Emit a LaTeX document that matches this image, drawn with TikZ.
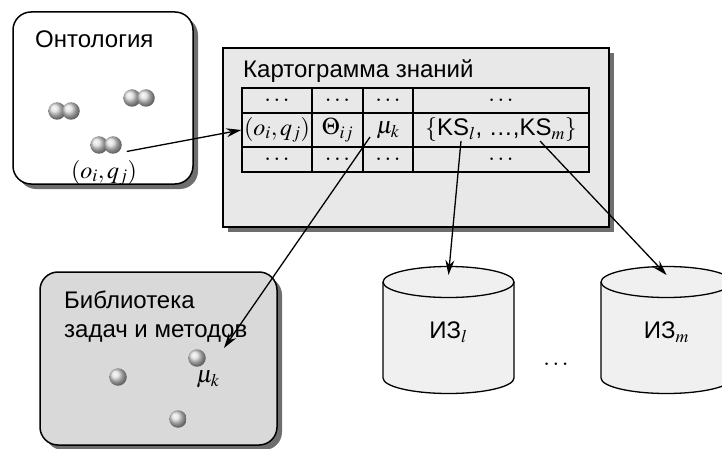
\documentclass[tikz,border=0pt]{standalone}
\usepackage{mathptmx}
\usepackage{fontspec}
\setmainfont{Liberation Sans}
\usetikzlibrary{arrows.meta}
\usetikzlibrary{shadows}
\definecolor{mapgray}{RGB}{232,232,232}
\definecolor{libgray}{RGB}{217,217,217}
\definecolor{basegray}{RGB}{240,240,240}
\definecolor{shadowgray}{RGB}{110,110,110}
\newcommand{\drawarrow}{\draw[-{Stealth[length=15pt,width=9pt,inset=5pt]}, line width=1.3pt]}
\newcommand{\drawbase}[3]{% knowledge source as a cylinder
    \filldraw[fill=basegray, line width=1.3pt] (#2-65.5, 282) -- (#2-65.5, 378)
        arc[start angle=180, end angle=0, x radius=65.5, y radius=15.5]
        -- (#2+65.5, 282)
        arc[start angle=0, end angle=-180, x radius=65.5, y radius=15.5] -- cycle;
    \draw[line width=1.3pt] (#2-65.5, 282) arc[start angle=180, end angle=0, x radius=65.5, y radius=15.5];
    \coordinate (#1) at (#2, 275);
    \node (#1 text) at (#2, 332) {#3};
}
\tikzset{
    box/.style={draw, line width=1.5pt, inner sep=0pt,
        drop shadow={shadow xshift=5pt, shadow yshift=-5pt, fill=shadowgray, opacity=1}},
    cell/.style={draw, line width=1.5pt, inner sep=0pt},
    ball/.style={circle, inner sep=0pt, minimum size=17.5pt, shading=ball, ball color=gray!28}
}

\begin{document}
\begin{tikzpicture}[x=1pt, y=-1pt, font=\fontsize{24}{29}\selectfont]
    \useasboundingbox (0,0) rectangle (722,449);
    \clip (0,0) rectangle (722,449);

    % Draw boxes
    \node[box, rounded corners=18pt, fill=white, minimum width=180pt, minimum height=172pt] (onto) at (103, 98) {};
    \node[box, fill=mapgray, minimum width=386pt, minimum height=179pt] (map) at (416, 137.5) {};
    \node[box, rounded corners=18pt, fill=libgray, minimum width=237pt, minimum height=173pt] (lib) at (158.5, 358.5) {};

    \node[anchor=base west, inner sep=0pt] (onto title) at (35, 48) {Онтология};
    \node[anchor=base west, inner sep=0pt] (map title) at (243, 78) {Картограмма знаний};
    \node[anchor=base west, align=left, inner sep=0pt] (lib title) at (64, 337) {Библиотека\\задач и методов};

    % Draw table
    \foreach \cx/\cw/\n in {277/70/a, 337.5/51/b, 388/50/c, 501/176/d} {
        \node[cell, minimum width=\cw pt, minimum height=25pt] (top \n) at (\cx, 100.5) {$\dots$};
        \node[cell, minimum width=\cw pt, minimum height=25pt] (bot \n) at (\cx, 159.5) {$\dots$};
    }
    \node[cell, minimum width=70pt, minimum height=34pt] (oq) at (277, 130) {$(o_i,q_j)$};
    \node[cell, minimum width=51pt, minimum height=34pt] (theta) at (337.5, 130) {$\Theta_{ij}$};
    \node[cell, minimum width=50pt, minimum height=34pt] (mu) at (388, 130) {$\mu_k$};
    \node[cell, minimum width=176pt, minimum height=34pt] (ks) at (501, 130) {$\{$KS$_l$, \dots,KS$_m\}$};
    \coordinate (ksl) at (461, 141);
    \coordinate (ksm) at (540, 141);
    \coordinate (mu tail) at (370, 137);

    % Draw balls
    \node[ball] (p1a) at (57, 111) {};
    \node[ball] (p1b) at (71, 111) {};
    \node[ball] (p2a) at (132, 98) {};
    \node[ball] (p2b) at (146, 98) {};
    \node[ball] (p3a) at (99, 145) {};
    \node[ball] (p3b) at (113, 145) {};
    \node[inner sep=0pt] (oq label) at (104, 173) {$(o_i,q_j)$};

    \node[ball] (m1) at (197, 358) {};
    \node[ball] (m2) at (118, 377) {};
    \node[ball] (m3) at (178, 419) {};
    \node[inner sep=0pt] (mu label) at (208, 379) {$\mu_k$};
    \coordinate (mu tip) at (224, 348);

    % Draw sources
    \drawbase{izl}{448.5}{ИЗ$_l$}
    \drawbase{izm}{666.5}{ИЗ$_m$}
    \node (dots) at (556, 364) {$\dots$};

    % Draw links
    \drawarrow ([xshift=6pt, yshift=-2pt]p3b.-30) -- (oq.west);
    \drawarrow (mu tail) -- (mu tip);
    \drawarrow (ksl) -- (izl);
    \drawarrow (ksm) -- (izm);
\end{tikzpicture}
\end{document}
